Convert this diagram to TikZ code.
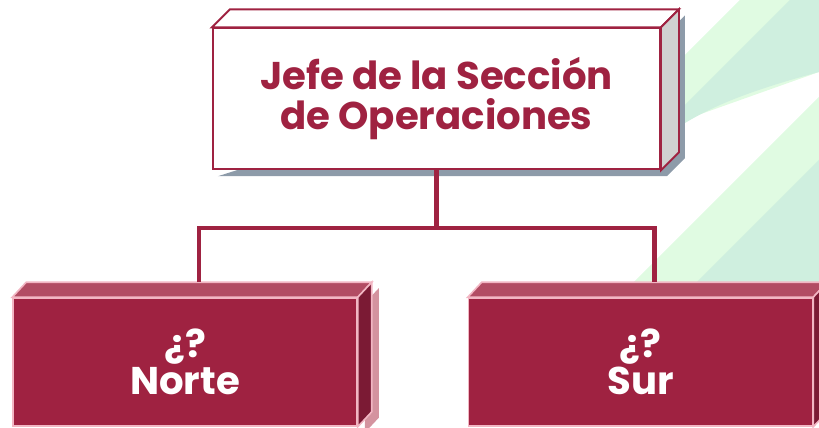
\documentclass[tikz,border=0pt]{standalone}
\usepackage{fontspec}
\setmainfont{Poppins}
\usetikzlibrary{backgrounds}

\definecolor{guinda}{HTML}{9F2241}
\definecolor{guindatop}{HTML}{B24C63}
\definecolor{guindaside}{HTML}{7B1A34}
\definecolor{rosa}{HTML}{F2B6C3}
\definecolor{rosashadow}{HTML}{D4939F}
\definecolor{greyside}{HTML}{D0D0D0}
\definecolor{greyshadow}{HTML}{8D9BA9}
\definecolor{lightgreen}{HTML}{E0FBE2}
\definecolor{mint}{HTML}{CFEFDF}

\begin{document}
\begin{tikzpicture}[x=0.02cm, y=-0.02cm,
  headbox/.style={draw=guinda, line width=1.1pt, fill=white,
    minimum width=8.946cm, minimum height=2.82cm, align=center,
    text=guinda, font=\fontsize{22}{23}\selectfont\bfseries},
  areabox/.style={draw=rosa, line width=0.9pt, fill=guinda,
    minimum width=6.88cm, minimum height=2.56cm, align=center,
    text=white, font=\fontsize{22}{21}\selectfont\bfseries},
  link/.style={draw=guinda, line width=2.4pt}]
  \useasboundingbox (0,0) rectangle (819,428);

  \node[headbox] (jefe) at (436.4, 98.8) {Jefe de la Sección\\ de Operaciones};
  \node[areabox] (norte) at (185, 362) {¿?\\Norte};
  \node[areabox] (sur) at (640.5, 362) {¿?\\Sur};

  \begin{scope}[on background layer]
    % green stripes behind
    \fill[lightgreen] (740,0) -- (819,0) -- (819,72) -- (670,125) -- (670,70) -- cycle;
    \fill[mint] (790,0) -- (819,0) -- (819,72) .. controls (760,88) and (720,102) .. (685,123) -- (670,126) -- (670,120) -- cycle;
    \fill[lightgreen] (819,97) -- (819,300) -- (616,300) -- cycle;
    \fill[mint] (819,160) -- (819,300) -- (679,300) -- cycle;
    % shadows
    \fill[greyshadow] ([shift={(6,6)}]jefe.south west) -- ([shift={(6,6)}]jefe.south east)
      -- ([shift={(24,-12)}]jefe.south east) -- ([shift={(24,-12)}]jefe.north east)
      -- ([shift={(6,6)}]jefe.north east) -- cycle;
    \fill[rosashadow] ([shift={(7,6)}]norte.north east) -- ([shift={(21,-9)}]norte.north east)
      -- ([shift={(21,-9)}]norte.south east) -- ([shift={(7,6)}]norte.south east) -- cycle;
  \end{scope}

  % faces of the boxes
  \draw[guinda, line width=1.1pt, fill=white] (jefe.north west) -- ++(18,-18)
    -- ([shift={(18,-18)}]jefe.north east) -- (jefe.north east) -- cycle;
  \draw[guinda, line width=1.1pt, fill=greyside] (jefe.north east) -- ++(18,-18)
    -- ([shift={(18,-18)}]jefe.south east) -- (jefe.south east) -- cycle;
  \foreach \b in {norte, sur} {
    \draw[rosa, line width=0.9pt, fill=guindatop] (\b.north west) -- ++(14,-15)
      -- ([shift={(14,-15)}]\b.north east) -- (\b.north east) -- cycle;
    \draw[rosa, line width=0.9pt, fill=guindaside] (\b.north east) -- ++(14,-15)
      -- ([shift={(14,-15)}]\b.south east) -- (\b.south east) -- cycle;
    \coordinate (\b top) at ([shift={(14,-15)}]\b.north);
  }

  \coordinate (fork) at ([yshift=-1.15cm]jefe.south);
  \draw[link] (jefe.south) -- (fork);
  \draw[link] (nortetop) |- (fork) -| (surtop);
\end{tikzpicture}
\end{document}
